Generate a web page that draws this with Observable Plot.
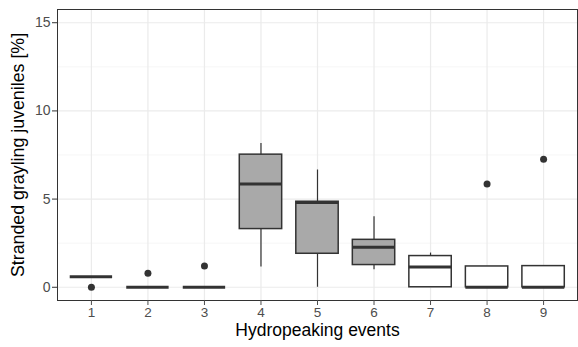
<!DOCTYPE html>
<html><head><meta charset="utf-8">
<script src="https://cdn.jsdelivr.net/npm/d3@7"></script>
<script src="https://cdn.jsdelivr.net/npm/@observablehq/plot@0.6"></script>
<style>body{margin:0;background:#fff;font-family:"Liberation Sans",Arial,sans-serif}</style>
</head><body><div id="chart"></div>
<script>
const events = [1, 2, 3, 4, 5, 6, 7, 8, 9];
const whiskerLow = [0.6, 0, 0, 1.15, 0, 1.0, 0, 0, 0];
const q1 = [0.6, 0, 0, 3.3, 1.9, 1.26, 0, 0, 0];
const median = [0.6, 0, 0, 5.85, 4.8, 2.27, 1.15, 0, 0];
const q3 = [0.6, 0, 0, 7.52, 4.85, 2.69, 1.77, 1.18, 1.2];
const whiskerHigh = [0.6, 0, 0, 8.15, 6.65, 4.0, 1.94, 1.18, 1.2];
const phase = ["A", "A", "A", "B", "B", "B", "A", "A", "A"];
const outlierEvent = [1, 2, 3, 8, 9];
const outlierValue = [0, 0.8, 1.2, 5.85, 7.26];
const yTicks = [0, 5, 10, 15];
const yMinor = [2.5, 7.5, 12.5];

const half = 0.375;
const boxes = events.map((e, i) => ({
  event: e, lo: whiskerLow[i], q1: q1[i], med: median[i], q3: q3[i], hi: whiskerHigh[i], phase: phase[i],
  x1: e - half, x2: e + half
}));
const outliers = outlierEvent.map((e, i) => ({event: e, value: outlierValue[i]}));

const chart = Plot.plot({
  width: 578,
  height: 347,
  marginLeft: 57,
  marginRight: 1,
  marginTop: 9,
  marginBottom: 47,
  style: {fontFamily: '"Liberation Sans", Arial, sans-serif', background: "#fff"},
  x: {domain: [0.4, 9.6], ticks: events, tickFormat: d => String(d), label: null},
  y: {domain: [-0.75, 15.75], ticks: yTicks, label: null},
  color: {domain: ["A", "B"], range: ["#ffffff", "#a9a9a9"]},
  marks: [
    Plot.ruleY(yMinor, {stroke: "#f0f0f0", strokeWidth: 0.6}),
    Plot.ruleY(yTicks, {stroke: "#ebebeb", strokeWidth: 1.2}),
    Plot.ruleX(events, {stroke: "#ebebeb", strokeWidth: 1.2}),
    Plot.ruleX(boxes, {x: "event", y1: "lo", y2: "hi", stroke: "#333", strokeWidth: 1.2}),
    Plot.rect(boxes, {x1: "x1", x2: "x2", y1: "q1", y2: "q3", fill: "phase", stroke: "#333", strokeWidth: 1.5}),
    Plot.ruleY(boxes, {y: "med", x1: "x1", x2: "x2", stroke: "#333", strokeWidth: 3}),
    Plot.dot(outliers, {x: "event", y: "value", r: 3.5, fill: "#333", stroke: "none"}),
    Plot.frame({stroke: "#333", strokeWidth: 1}),
    Plot.axisY({ticks: yTicks, tickSize: 5, tickPadding: 2, fontSize: 14, color: "#4d4d4d", stroke: "#333", label: null}),
    Plot.axisX({ticks: events, tickSize: 5, tickPadding: 2, fontSize: 13.5, color: "#4d4d4d", tickFormat: d => String(d), label: null}),
    Plot.text(["Stranded grayling juveniles [%]"], {frameAnchor: "left", dx: -39, rotate: -90, fontSize: 17.8, fill: "#000", textAnchor: "middle"}),
    Plot.text(["Hydropeaking events"], {frameAnchor: "bottom", dy: 35.5, fontSize: 17.5, fill: "#000"})
  ]
});
document.getElementById("chart").appendChild(chart);
</script>
</body></html>
